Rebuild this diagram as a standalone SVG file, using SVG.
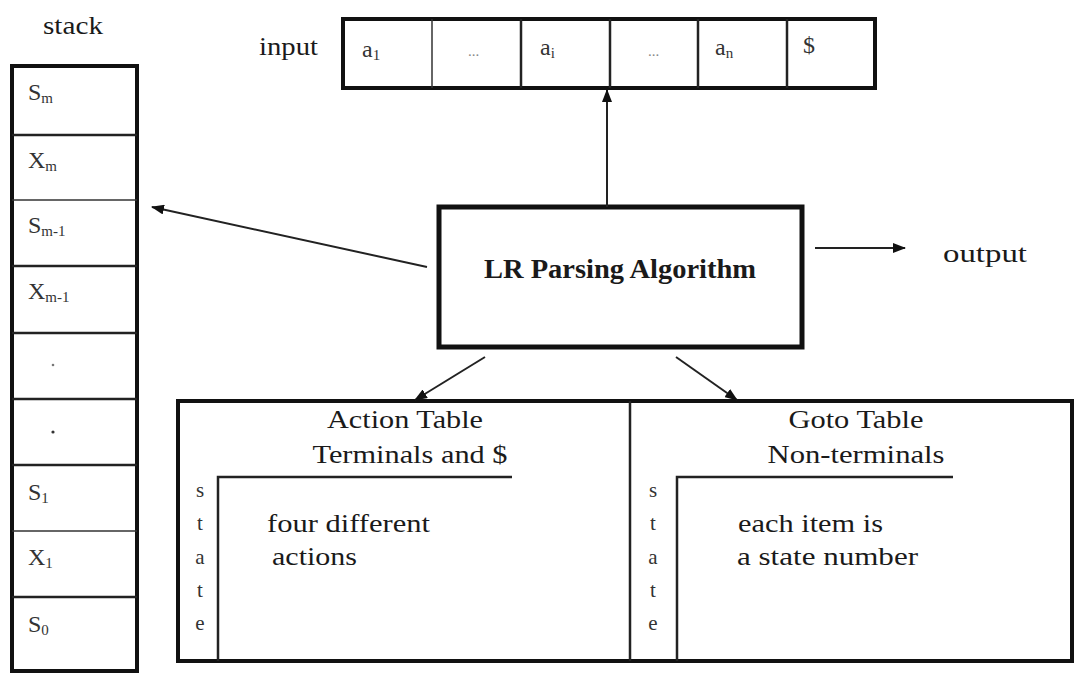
<svg xmlns="http://www.w3.org/2000/svg" width="1075" height="676" viewBox="0 0 1075 676">
  <style>
    text { font-family: "Liberation Serif", "Times New Roman", serif; fill: #1a1a1a; }
    .lbl { font-size: 25px; }
    .sym { font-size: 24px; fill: #333; }
    .sub { font-size: 15px; }
    .dots { font-size: 15px; fill: #888; }
    .title { font-size: 25px; text-anchor: middle; }
    .bold { font-size: 27px; font-weight: bold; text-anchor: middle; }
    .thick { fill: none; stroke: #111; stroke-width: 4; }
    .thin { fill: none; stroke: #333; stroke-width: 1.5; }
    .mid { fill: none; stroke: #222; stroke-width: 2.5; }
    .conn { fill: none; stroke: #222; stroke-width: 2; }
    .letter { font-size: 21px; fill: #333; text-anchor: middle; }
  </style>
  <defs>
    <marker id="head" viewBox="0 0 13 10" refX="12" refY="5" markerWidth="13" markerHeight="10" markerUnits="userSpaceOnUse" orient="auto">
      <path d="M0,0 L13,5 L0,10 z" fill="#111"/>
    </marker>
  </defs>

  <!-- stack -->
  <g id="stack">
    <text class="lbl" x="43" y="34" textLength="60" lengthAdjust="spacingAndGlyphs">stack</text>
    <rect class="thick" x="12" y="66" width="125" height="605"/>
    <line class="mid" x1="12" y1="135" x2="137" y2="135"/>
    <line class="thin" x1="12" y1="200" x2="137" y2="200"/>
    <line class="mid" x1="12" y1="266" x2="137" y2="266"/>
    <line class="mid" x1="12" y1="333" x2="137" y2="333"/>
    <line class="mid" x1="12" y1="399" x2="137" y2="399"/>
    <line class="mid" x1="12" y1="465" x2="137" y2="465"/>
    <line class="thin" x1="12" y1="531" x2="137" y2="531"/>
    <line class="mid" x1="12" y1="597" x2="137" y2="597"/>
    <text class="sym" x="28" y="100">S<tspan class="sub" dy="3">m</tspan></text>
    <text class="sym" x="28" y="168">X<tspan class="sub" dy="3">m</tspan></text>
    <text class="sym" x="28" y="233">S<tspan class="sub" dy="3">m-1</tspan></text>
    <text class="sym" x="28" y="299">X<tspan class="sub" dy="3">m-1</tspan></text>
    <circle cx="53" cy="365" r="1.3" fill="#777"/>
    <circle cx="53" cy="432" r="1.6" fill="#333"/>
    <text class="sym" x="28" y="500">S<tspan class="sub" dy="3">1</tspan></text>
    <text class="sym" x="28" y="565">X<tspan class="sub" dy="3">1</tspan></text>
    <text class="sym" x="28" y="632">S<tspan class="sub" dy="3">0</tspan></text>
  </g>

  <!-- input tape -->
  <g id="input">
    <text class="lbl" x="259" y="55" textLength="59" lengthAdjust="spacingAndGlyphs">input</text>
    <rect class="thick" x="343" y="19" width="532" height="69"/>
    <line class="thin" x1="432" y1="19" x2="432" y2="88"/>
    <line class="mid" x1="521" y1="19" x2="521" y2="88"/>
    <line class="mid" x1="610" y1="19" x2="610" y2="88"/>
    <line class="mid" x1="698" y1="19" x2="698" y2="88"/>
    <line class="mid" x1="787" y1="19" x2="787" y2="88"/>
    <text class="sym" x="362" y="57">a<tspan class="sub" dy="3">1</tspan></text>
    <text class="dots" x="468" y="56">...</text>
    <text class="sym" x="540" y="55">a<tspan class="sub" dy="3">i</tspan></text>
    <text class="dots" x="648" y="56">...</text>
    <text class="sym" x="715" y="55">a<tspan class="sub" dy="3">n</tspan></text>
    <text class="sym" x="803" y="53">$</text>
  </g>

  <!-- parser driver -->
  <g id="parser">
    <rect x="439" y="207" width="363" height="140" fill="none" stroke="#111" stroke-width="5"/>
    <text class="bold" x="620" y="278" textLength="272" lengthAdjust="spacingAndGlyphs">LR Parsing Algorithm</text>
  </g>

  <g id="output">
    <text class="lbl" x="943" y="262" textLength="84" lengthAdjust="spacingAndGlyphs">output</text>
  </g>

  <!-- parsing tables -->
  <g id="tables">
    <rect x="178" y="401" width="894" height="260" fill="none" stroke="#111" stroke-width="4"/>
    <line class="mid" x1="630" y1="401" x2="630" y2="661"/>

    <g id="action-table">
      <text class="title" x="405" y="428" textLength="156" lengthAdjust="spacingAndGlyphs">Action Table</text>
      <text class="title" x="410" y="463" textLength="195" lengthAdjust="spacingAndGlyphs">Terminals and $</text>
      <polyline class="mid" points="512,477 218,477 218,661"/>
      <text class="letter" x="200" y="497">s</text>
      <text class="letter" x="200" y="530">t</text>
      <text class="letter" x="200" y="564">a</text>
      <text class="letter" x="200" y="597">t</text>
      <text class="letter" x="200" y="630">e</text>
      <text class="lbl" x="267" y="532" textLength="163" lengthAdjust="spacingAndGlyphs">four different</text>
      <text class="lbl" x="272" y="565" textLength="85" lengthAdjust="spacingAndGlyphs">actions</text>
    </g>

    <g id="goto-table">
      <text class="title" x="856" y="428" textLength="135" lengthAdjust="spacingAndGlyphs">Goto Table</text>
      <text class="title" x="856" y="463" textLength="177" lengthAdjust="spacingAndGlyphs">Non-terminals</text>
      <polyline class="mid" points="953,477 677,477 677,661"/>
      <text class="letter" x="653" y="497">s</text>
      <text class="letter" x="653" y="530">t</text>
      <text class="letter" x="653" y="564">a</text>
      <text class="letter" x="653" y="597">t</text>
      <text class="letter" x="653" y="630">e</text>
      <text class="lbl" x="738" y="532" textLength="145" lengthAdjust="spacingAndGlyphs">each item is</text>
      <text class="lbl" x="737" y="565" textLength="181" lengthAdjust="spacingAndGlyphs">a state number</text>
    </g>
  </g>

  <!-- connectors -->
  <g id="connectors">
    <line class="conn" x1="607" y1="207" x2="607" y2="90" marker-end="url(#head)"/>
    <line class="conn" x1="427" y1="267" x2="152" y2="207" marker-end="url(#head)"/>
    <line class="conn" x1="815" y1="248" x2="905" y2="248" marker-end="url(#head)"/>
    <line class="conn" x1="485" y1="357" x2="415" y2="400" marker-end="url(#head)"/>
    <line class="conn" x1="676" y1="357" x2="737" y2="400" marker-end="url(#head)"/>
  </g>
</svg>
